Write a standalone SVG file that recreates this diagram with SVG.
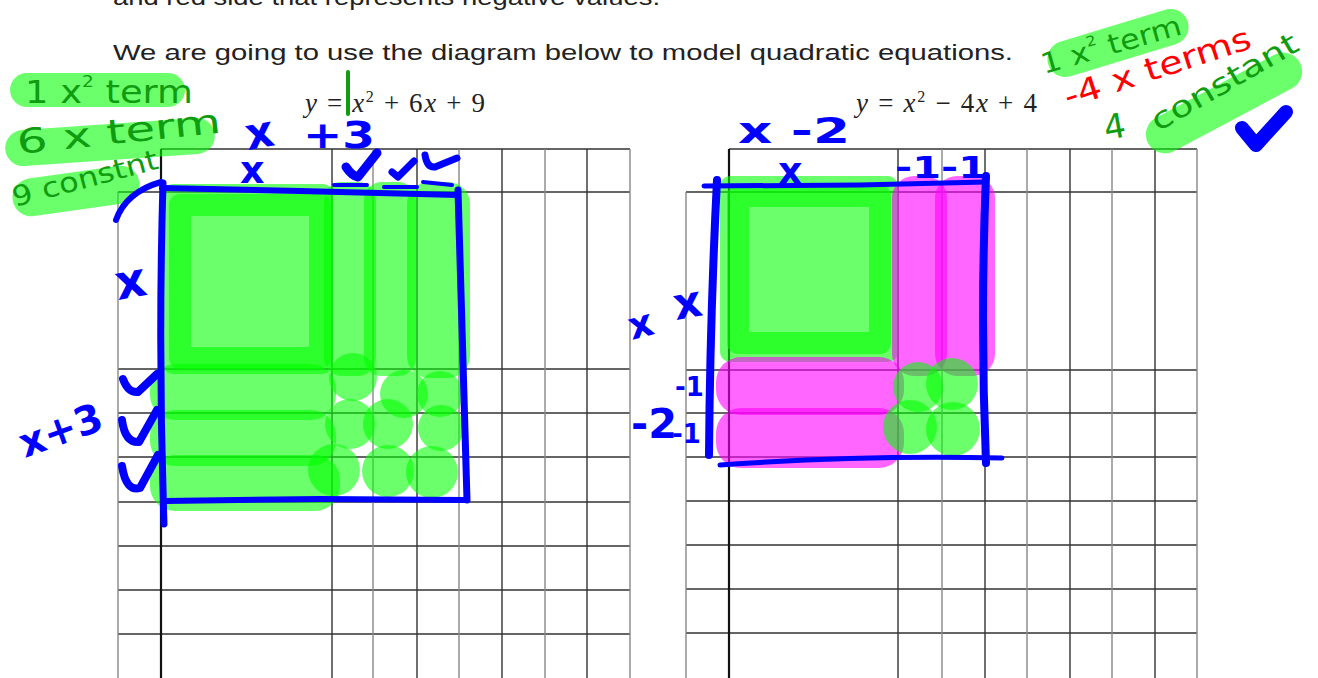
<svg xmlns="http://www.w3.org/2000/svg" width="1318" height="678" viewBox="0 0 1318 678">
<style>
.print{font-family:"Liberation Sans",Arial,sans-serif;font-size:22px;fill:#222}
.eq{font-family:"Liberation Serif","Times New Roman",serif;font-size:27px;fill:#222}
.it{font-style:italic}
.g1{stroke:#333;stroke-width:1.4;fill:none}
.g2{stroke:#888;stroke-width:1.4;fill:none}
.thick{stroke:#111;stroke-width:2.2;fill:none}
.hl{fill:#00ff00;fill-opacity:.58}
.hls{fill:none;stroke:#00ff00;stroke-opacity:.58;stroke-linejoin:round;stroke-linecap:round}
.mg{fill:#ff00ff;fill-opacity:.6}
.pen{fill:none;stroke:#0000ff;stroke-linecap:round;stroke-linejoin:round}
.bl{font-family:"DejaVu Sans",sans-serif;font-weight:bold;fill:#0000ff}
.gr{font-family:"DejaVu Sans",sans-serif;fill:#109c10}
.rd{font-family:"DejaVu Sans",sans-serif;fill:#ff0000}
</style>
<rect width="1318" height="678" fill="#fff"/>

<g id="page-text">
<text class="print" x="113" y="5" textLength="547" lengthAdjust="spacingAndGlyphs">and red side that represents negative values.</text>
<text class="print" x="113" y="60" textLength="900" lengthAdjust="spacingAndGlyphs">We are going to use the diagram below to model quadratic equations.</text>
</g>

<g id="equation-left">
<text class="eq" x="305" y="112" textLength="180" lengthAdjust="spacing"><tspan class="it">y</tspan> = <tspan class="it">x</tspan><tspan font-size="16" dy="-10">2</tspan><tspan dy="10"> + 6</tspan><tspan class="it">x</tspan> + 9</text>
</g>
<g id="equation-right">
<text class="eq" x="856" y="112" textLength="181" lengthAdjust="spacing"><tspan class="it">y</tspan> = <tspan class="it">x</tspan><tspan font-size="16" dy="-10">2</tspan><tspan dy="10"> − 4</tspan><tspan class="it">x</tspan> + 4</text>
</g>

<g id="grid-left">
<path class="g1" d="M161 149H630M118 192H630M118 369H630M118 413H630M118 457H630M118 502H630M118 546H630M118 590H630M118 634H630"/>
<path class="g2" d="M118 192V678"/>
<path class="thick" d="M161 149V678"/>
<path class="g1" d="M332 149V678M417 149V678M502 149V678M587 149V678"/>
<path class="g2" d="M373 149V678M459 149V678M545 149V678M630 149V678"/>
</g>

<g id="grid-right">
<path class="g1" d="M729 149H1197M686 192H1197M686 370H1197M686 413H1197M686 457H1197M686 501H1197M686 545H1197M686 589H1197M686 633H1197"/>
<path class="g2" d="M686 192V678"/>
<path class="thick" d="M729 149V678"/>
<path class="g1" d="M898 149V678M985 149V678M1070 149V678M1155 149V678"/>
<path class="g2" d="M942 149V678M1027 149V678M1112 149V678M1197 149V678"/>
</g>

<g id="tiles-left">
<rect class="hl" x="163" y="184" width="170" height="190" rx="10"/>
<path class="hls" stroke-width="22" d="M180 205H320V358H180Z"/>
<rect class="hl" x="324" y="182" width="52" height="194" rx="18"/>
<rect class="hl" x="364" y="182" width="52" height="194" rx="18"/>
<rect class="hl" x="407" y="182" width="63" height="196" rx="22"/>
<rect class="hl" x="150" y="364" width="186" height="56" rx="25"/>
<rect class="hl" x="150" y="410" width="186" height="56" rx="25"/>
<rect class="hl" x="150" y="455" width="190" height="56" rx="25"/>
<circle class="hl" cx="353" cy="377" r="24"/>
<circle class="hl" cx="404" cy="394" r="24"/>
<circle class="hl" cx="440" cy="394" r="23"/>
<circle class="hl" cx="350" cy="424" r="25"/>
<circle class="hl" cx="388" cy="424" r="25"/>
<circle class="hl" cx="441" cy="428" r="23"/>
<circle class="hl" cx="334" cy="470" r="26"/>
<circle class="hl" cx="388" cy="471" r="26"/>
<circle class="hl" cx="432" cy="472" r="26"/>
</g>

<g id="tiles-right">
<rect class="hl" x="720" y="176" width="178" height="186" rx="10"/>
<path class="hls" stroke-width="22" d="M738 196H880V343H738Z"/>
<rect class="mg" x="892" y="176" width="55" height="200" rx="22"/>
<rect class="mg" x="935" y="176" width="60" height="200" rx="22"/>
<rect class="mg" x="716" y="357" width="188" height="58" rx="25"/>
<rect class="mg" x="716" y="408" width="188" height="60" rx="25"/>
<circle class="hl" cx="918" cy="387" r="25"/>
<circle class="hl" cx="952" cy="384" r="26"/>
<circle class="hl" cx="910" cy="427" r="27"/>
<circle class="hl" cx="953" cy="429" r="27"/>
</g>

<g id="highlights">
<rect class="hl" x="10" y="73" width="175" height="34" rx="17"/>
<rect class="hl" x="5" y="124" width="210" height="36" rx="18" transform="rotate(-4 110 142)"/>
<rect class="hl" x="12" y="172" width="128" height="38" rx="19" transform="rotate(-8 76 191)"/>
<rect class="hl" x="1045" y="25" width="146" height="36" rx="18" transform="rotate(-17 1118 43)"/>
<rect class="hl" x="1138" y="84" width="172" height="38" rx="19" transform="rotate(-28 1224 103)"/>
</g>

<g id="notes-green">
<path d="M348 72V114" stroke="#109c10" stroke-width="4" stroke-linecap="round"/>
<text class="gr" x="25" y="103" font-size="32" textLength="168" lengthAdjust="spacingAndGlyphs">1 x<tspan font-size="16" dy="-16">2</tspan><tspan dy="16"> term</tspan></text>
<text class="gr" x="18" y="154" font-size="34" textLength="205" lengthAdjust="spacingAndGlyphs" transform="rotate(-6 18 154)">6 x term</text>
<text class="gr" x="15" y="207" font-size="28" textLength="150" lengthAdjust="spacingAndGlyphs" transform="rotate(-15 15 207)">9 constnt</text>
<text class="gr" x="1044" y="74" font-size="28" textLength="145" lengthAdjust="spacingAndGlyphs" transform="rotate(-16 1044 74)">1 x<tspan font-size="14" dy="-14">2</tspan><tspan dy="14"> term</tspan></text>
<text class="gr" x="1106" y="140" font-size="34" transform="rotate(-10 1106 140)">4</text>
<text class="gr" x="1158" y="132" font-size="30" textLength="165" lengthAdjust="spacingAndGlyphs" transform="rotate(-30 1158 132)">constant</text>
</g>

<g id="notes-red">
<text class="rd" x="1068" y="108" font-size="32" textLength="195" lengthAdjust="spacingAndGlyphs" transform="rotate(-18 1068 108)">-4 x terms</text>
</g>

<g id="outline-left" class="pen">
<path stroke-width="7" d="M163 183Q158 350 164 524"/>
<path stroke-width="6" d="M162 188L300 191L458 195"/>
<path stroke-width="7" d="M458 190Q462 350 467 500"/>
<path stroke-width="6" d="M165 501L320 499L465 500"/>
<path stroke-width="6" d="M116 220Q126 192 161 182"/>
<path stroke-width="4" d="M334 185H367M384 187H417M423 182L452 185"/>
</g>

<g id="outline-right" class="pen">
<path stroke-width="8" d="M717 180Q710 320 709 455"/>
<path stroke-width="5" d="M704 186L860 185L986 182"/>
<path stroke-width="8" d="M986 176Q980 320 986 463"/>
<path stroke-width="5" d="M720 465Q860 455 1002 458"/>
</g>

<g id="checks" class="pen">
<path stroke-width="9" d="M346 167Q352 176 358 177L377 153"/>
<path stroke-width="7" d="M392 172L398 177L414 161"/>
<path stroke-width="7" d="M425 155Q427 168 435 167L457 158"/>
<path stroke-width="8" d="M123 379Q128 393 138 392L157 374"/>
<path stroke-width="8" d="M122 420Q125 443 139 442L157 410"/>
<path stroke-width="8" d="M122 466Q126 492 140 488L158 455"/>
<path stroke-width="14" d="M1242 128L1256 145L1286 112"/>
</g>

<g id="notes-blue">
<text class="bl" x="248" y="150" font-size="44" transform="rotate(-10 248 150)">x</text>
<text class="bl" x="303" y="148" font-size="38" textLength="72" lengthAdjust="spacingAndGlyphs">+3</text>
<text class="bl" x="240" y="183" font-size="38">x</text>
<text class="bl" x="118" y="300" font-size="48" transform="rotate(-10 118 300)">x</text>
<text class="bl" x="25" y="458" font-size="40" textLength="86" lengthAdjust="spacingAndGlyphs" transform="rotate(-20 25 458)">x+3</text>
<text class="bl" x="738" y="143" font-size="36" textLength="112" lengthAdjust="spacingAndGlyphs">x -2</text>
<text class="bl" x="778" y="184" font-size="38">x</text>
<text class="bl" x="895" y="178" font-size="30" textLength="92" lengthAdjust="spacingAndGlyphs">-1-1</text>
<text class="bl" x="632" y="340" font-size="38" transform="rotate(-15 632 340)">x</text>
<text class="bl" x="676" y="320" font-size="44" transform="rotate(-10 676 320)">x</text>
<text class="bl" x="631" y="438" font-size="40" textLength="46" lengthAdjust="spacingAndGlyphs">-2</text>
<text class="bl" x="675" y="396" font-size="26">-1</text>
<text class="bl" x="672" y="443" font-size="26">-1</text>
</g>
</svg>
